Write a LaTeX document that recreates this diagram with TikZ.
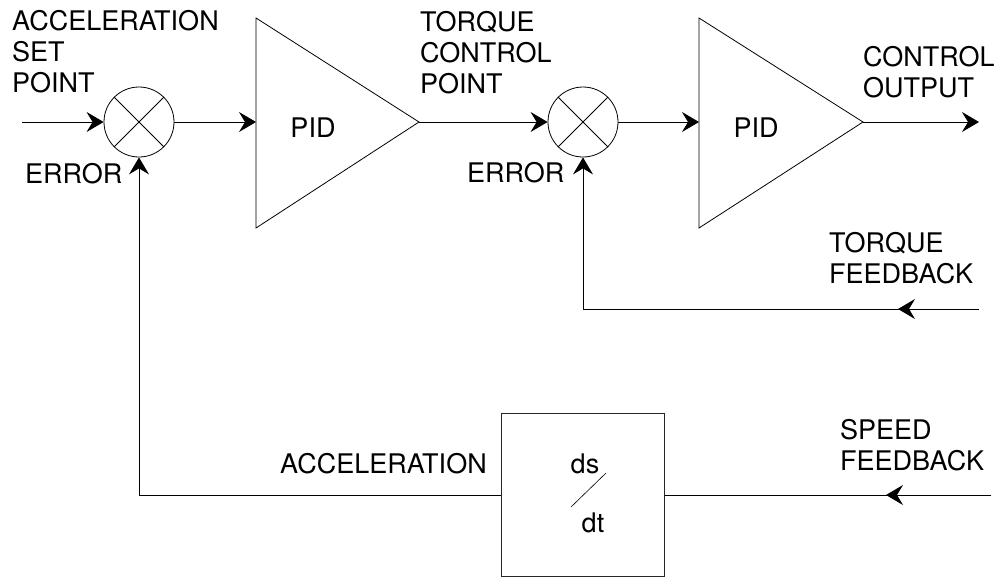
\documentclass[tikz,border=0pt]{standalone}
\usepackage{fontspec}
\setsansfont{TeX Gyre Heros}
\usepackage{tikz}
\usetikzlibrary{positioning,arrows.meta,calc}
\newcommand{\lblfont}{\sffamily\fontsize{27}{31}\selectfont}
\tikzset{
  wire/.style={line width=1pt,draw=black},
  arrowline/.style={-{Stealth[length=17pt,width=20pt,inset=6pt]},line width=1pt,draw=black},
  sumnode/.style={draw,circle,minimum size=70pt,inner sep=0pt,line width=0.8pt},
  derivbox/.style={draw=black!85,rectangle,minimum size=163pt,inner sep=0pt,line width=1pt},
  amp/.style={draw,line width=0.8pt,line join=miter},
  lbl/.style={font=\lblfont,inner sep=0pt,align=left,anchor=base west}
}

\begin{document}
\begin{tikzpicture}[x=1pt,y=-1pt]
  \useasboundingbox (0,0) rectangle (1002,579);

  % summing junctions
  \node[sumnode] (sum1) at (139,122) {};
  \node[sumnode] (sum2) at (583,122) {};
  \foreach \s in {sum1,sum2} {
    \draw[line width=0.8pt] (\s.45) -- (\s.225);
    \draw[line width=0.8pt] (\s.135) -- (\s.315);
  }

  % PID amplifiers
  \coordinate (pid1in) at (256,122);
  \coordinate (pid1out) at (419,122);
  \draw[amp] (256,18) -- (256,228) -- (pid1out) -- cycle;
  \node[font=\lblfont,inner sep=0pt,anchor=base] (pid1) at (313,137) {PID};

  \coordinate (pid2in) at (699,122);
  \coordinate (pid2out) at (863,122);
  \draw[amp] (699,18) -- (699,228) -- (pid2out) -- cycle;
  \node[font=\lblfont,inner sep=0pt,anchor=base] (pid2) at (756,137) {PID};

  % derivative block
  \node[derivbox] (deriv) at (582.5,495) {};
  \node[font=\lblfont,inner sep=0pt,anchor=base] (ds) at (585,473) {ds};
  \node[font=\lblfont,inner sep=0pt,anchor=base] (dt) at (593,532) {dt};
  \draw[line width=0.6pt] (571,507) -- (606,473);

  % forward path
  \coordinate (accset) at (22,122);
  \coordinate (ctlout) at (979,122);
  \draw[arrowline] (accset) -- (sum1.west);
  \draw[arrowline] (sum1.east) -- (pid1in);
  \draw[arrowline] (pid1out) -- (sum2.west);
  \draw[arrowline] (sum2.east) -- (pid2in);
  \draw[arrowline] (pid2out) -- (ctlout);

  % torque feedback loop
  \coordinate (tqfb) at (979,309);
  \draw[arrowline] (tqfb) -- (tqfb -| sum2) -- (sum2.south);
  \draw[arrowline] (tqfb) -- ++(-81,0);

  % speed feedback through d/dt
  \coordinate (spfb) at (991,495);
  \draw[wire] (spfb) -- (deriv.east);
  \draw[arrowline] (spfb) -- ++(-105,0);
  \draw[arrowline] (deriv.west) -- (deriv.west -| sum1) -- (sum1.south);

  % labels (anchored on the last line's baseline)
  \node[lbl] (lblset) at (12,92) {ACCELERATION\\SET\\POINT};
  \node[lbl] (lblerr1) at (25,183) {ERROR};
  \node[lbl] (lbltcp) at (420,93) {TORQUE\\CONTROL\\POINT};
  \node[lbl] (lblerr2) at (467,182) {ERROR};
  \node[lbl] (lblout) at (863,97) {CONTROL\\OUTPUT};
  \node[lbl] (lbltfb) at (829,283) {TORQUE\\FEEDBACK};
  \node[lbl] (lblsfb) at (840,470) {SPEED\\FEEDBACK};
  \node[lbl] (lblacc) at (280,473) {ACCELERATION};
\end{tikzpicture}
\end{document}
